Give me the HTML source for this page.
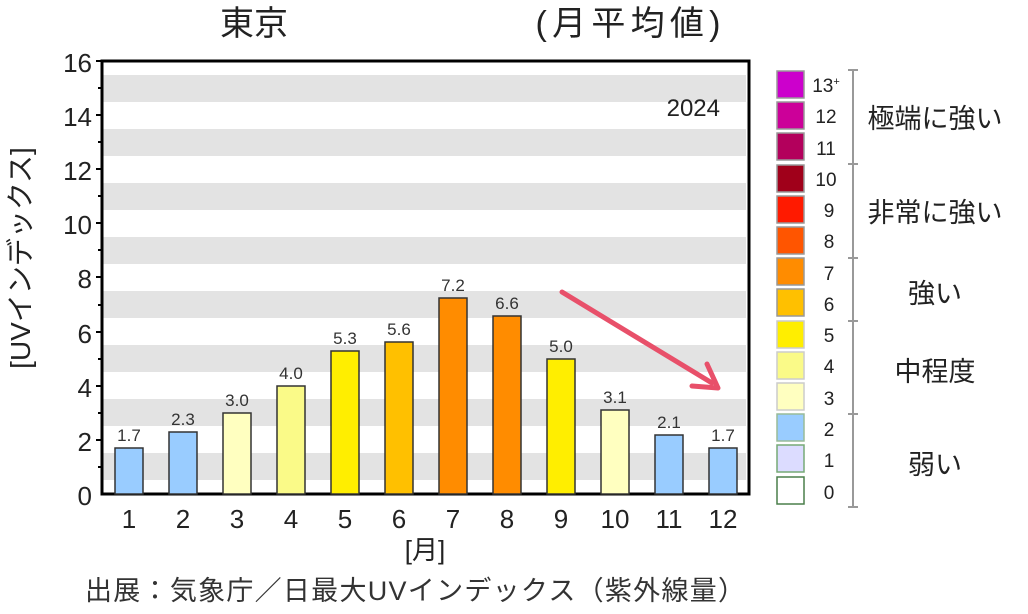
<!DOCTYPE html>
<html><head><meta charset="utf-8"><style>
body{margin:0;background:#fff;width:1028px;height:609px;overflow:hidden}
svg text{font-family:"Liberation Sans","Noto Sans CJK JP",sans-serif}
</style></head><body>
<svg width="1028" height="609" viewBox="0 0 1028 609">
<rect width="1028" height="609" fill="#fff"/>
<g fill="#e3e3e3">
<rect x="103" y="75" width="643" height="27"/>
<rect x="103" y="129" width="643" height="27"/>
<rect x="103" y="183" width="643" height="27"/>
<rect x="103" y="237" width="643" height="27"/>
<rect x="103" y="291" width="643" height="27"/>
<rect x="103" y="345" width="643" height="27"/>
<rect x="103" y="399" width="643" height="27"/>
<rect x="103" y="453" width="643" height="27"/>
</g>
<rect x="102" y="61" width="647" height="433" fill="none" stroke="#000" stroke-width="3"/>
<g stroke="#000" stroke-width="2">
<line x1="96" y1="61" x2="102" y2="61"/><line x1="96" y1="115" x2="102" y2="115"/><line x1="96" y1="169" x2="102" y2="169"/><line x1="96" y1="223" x2="102" y2="223"/><line x1="96" y1="277" x2="102" y2="277"/><line x1="96" y1="332" x2="102" y2="332"/><line x1="96" y1="386" x2="102" y2="386"/><line x1="96" y1="440" x2="102" y2="440"/>
<line x1="98" y1="88" x2="102" y2="88"/><line x1="98" y1="142" x2="102" y2="142"/><line x1="98" y1="196" x2="102" y2="196"/><line x1="98" y1="250" x2="102" y2="250"/><line x1="98" y1="305" x2="102" y2="305"/><line x1="98" y1="359" x2="102" y2="359"/><line x1="98" y1="413" x2="102" y2="413"/><line x1="98" y1="467" x2="102" y2="467"/>
</g>
<g font-size="26" text-anchor="end" fill="#222">
<text x="92" y="72">16</text><text x="92" y="126">14</text><text x="92" y="180">12</text><text x="92" y="234">10</text><text x="92" y="288">8</text><text x="92" y="343">6</text><text x="92" y="397">4</text><text x="92" y="451">2</text><text x="92" y="505">0</text>
</g>
<text transform="translate(30,258) rotate(-90)" font-size="28" text-anchor="middle" fill="#222">[UVインデックス]</text>
<text x="254" y="35" font-size="34" text-anchor="middle" fill="#222">東京</text>
<text x="628" y="35" font-size="34" text-anchor="middle" fill="#222" textLength="185">(月平均値)</text>
<text x="720" y="116" font-size="24" text-anchor="end" fill="#222">2024</text>
<g stroke="#333" stroke-width="1.5">
<rect x="115" y="448" width="28" height="46" fill="#99ccff"/>
<rect x="169" y="432" width="28" height="62" fill="#99ccff"/>
<rect x="223" y="413" width="28" height="81" fill="#ffffc0"/>
<rect x="277" y="386" width="28" height="108" fill="#fafa88"/>
<rect x="331" y="351" width="28" height="143" fill="#ffee00"/>
<rect x="385" y="342" width="28" height="152" fill="#ffc000"/>
<rect x="439" y="298" width="28" height="196" fill="#ff8c00"/>
<rect x="493" y="316" width="28" height="178" fill="#ff8c00"/>
<rect x="547" y="359" width="28" height="135" fill="#ffee00"/>
<rect x="601" y="410" width="28" height="84" fill="#ffffc0"/>
<rect x="655" y="435" width="28" height="59" fill="#99ccff"/>
<rect x="709" y="448" width="28" height="46" fill="#99ccff"/>
</g>
<g font-size="17" text-anchor="middle" fill="#333">
<text x="129" y="441">1.7</text><text x="183" y="425">2.3</text><text x="237" y="406">3.0</text><text x="291" y="379">4.0</text><text x="345" y="344">5.3</text><text x="399" y="335">5.6</text><text x="453" y="291">7.2</text><text x="507" y="309">6.6</text><text x="561" y="352">5.0</text><text x="615" y="403">3.1</text><text x="669" y="428">2.1</text><text x="723" y="441">1.7</text>
</g>
<g font-size="26" text-anchor="middle" fill="#222">
<text x="129" y="528">1</text><text x="183" y="528">2</text><text x="237" y="528">3</text><text x="291" y="528">4</text><text x="345" y="528">5</text><text x="399" y="528">6</text><text x="453" y="528">7</text><text x="507" y="528">8</text><text x="561" y="528">9</text><text x="615" y="528">10</text><text x="669" y="528">11</text><text x="723" y="528">12</text>
<text x="425" y="559">[月]</text>
</g>
<text x="415" y="600" font-size="27" text-anchor="middle" fill="#333" textLength="660">出展：気象庁／日最大UVインデックス（紫外線量）</text>
<line x1="562" y1="292" x2="712" y2="383" stroke="#e8506a" stroke-width="5" stroke-linecap="round"/>
<polyline points="692,386 718,388 707,364" fill="none" stroke="#e8506a" stroke-width="5" stroke-linecap="round" stroke-linejoin="round"/>
<g stroke-width="1.5">
<rect x="777" y="71" width="27" height="27" fill="#cc00cc" stroke="#999"/>
<rect x="777" y="102" width="27" height="27" fill="#cc0099" stroke="#999"/>
<rect x="777" y="133" width="27" height="27" fill="#b3005c" stroke="#999"/>
<rect x="777" y="165" width="27" height="27" fill="#a0001a" stroke="#999"/>
<rect x="777" y="196" width="27" height="27" fill="#ff1a00" stroke="#999"/>
<rect x="777" y="227" width="27" height="27" fill="#ff5500" stroke="#999"/>
<rect x="777" y="258" width="27" height="27" fill="#ff8c00" stroke="#999"/>
<rect x="777" y="289" width="27" height="27" fill="#ffc000" stroke="#999"/>
<rect x="777" y="321" width="27" height="27" fill="#ffee00" stroke="#ccc"/>
<rect x="777" y="352" width="27" height="27" fill="#fafa88" stroke="#ccc"/>
<rect x="777" y="383" width="27" height="27" fill="#ffffc0" stroke="#ccc"/>
<rect x="777" y="414" width="27" height="27" fill="#99ccff" stroke="#9b9"/>
<rect x="777" y="445" width="27" height="27" fill="#dcdcff" stroke="#7a7"/>
<rect x="777" y="477" width="27" height="27" fill="#fff" stroke="#4a7f4a"/>
</g>
<g font-size="19" fill="#222" text-anchor="middle">
<text x="826" y="92">13<tspan font-size="11" dy="-7">+</tspan></text>
<text x="826" y="123">12</text><text x="826" y="155">11</text><text x="826" y="186">10</text><text x="829" y="217">9</text><text x="829" y="248">8</text><text x="829" y="280">7</text><text x="829" y="311">6</text><text x="829" y="342">5</text><text x="829" y="373">4</text><text x="829" y="405">3</text><text x="829" y="436">2</text><text x="829" y="467">1</text><text x="829" y="499">0</text>
</g>
<g stroke="#999" stroke-width="2">
<line x1="853" y1="70" x2="853" y2="507"/>
<line x1="848" y1="70" x2="858" y2="70"/><line x1="848" y1="164" x2="858" y2="164"/><line x1="848" y1="258" x2="858" y2="258"/><line x1="848" y1="321" x2="858" y2="321"/><line x1="848" y1="414" x2="858" y2="414"/><line x1="848" y1="507" x2="858" y2="507"/>
</g>
<g font-size="27" fill="#222" text-anchor="middle">
<text x="935" y="128">極端に強い</text>
<text x="935" y="222">非常に強い</text>
<text x="935" y="303">強い</text>
<text x="935" y="381">中程度</text>
<text x="935" y="474">弱い</text>
</g>
</svg>
</body></html>
